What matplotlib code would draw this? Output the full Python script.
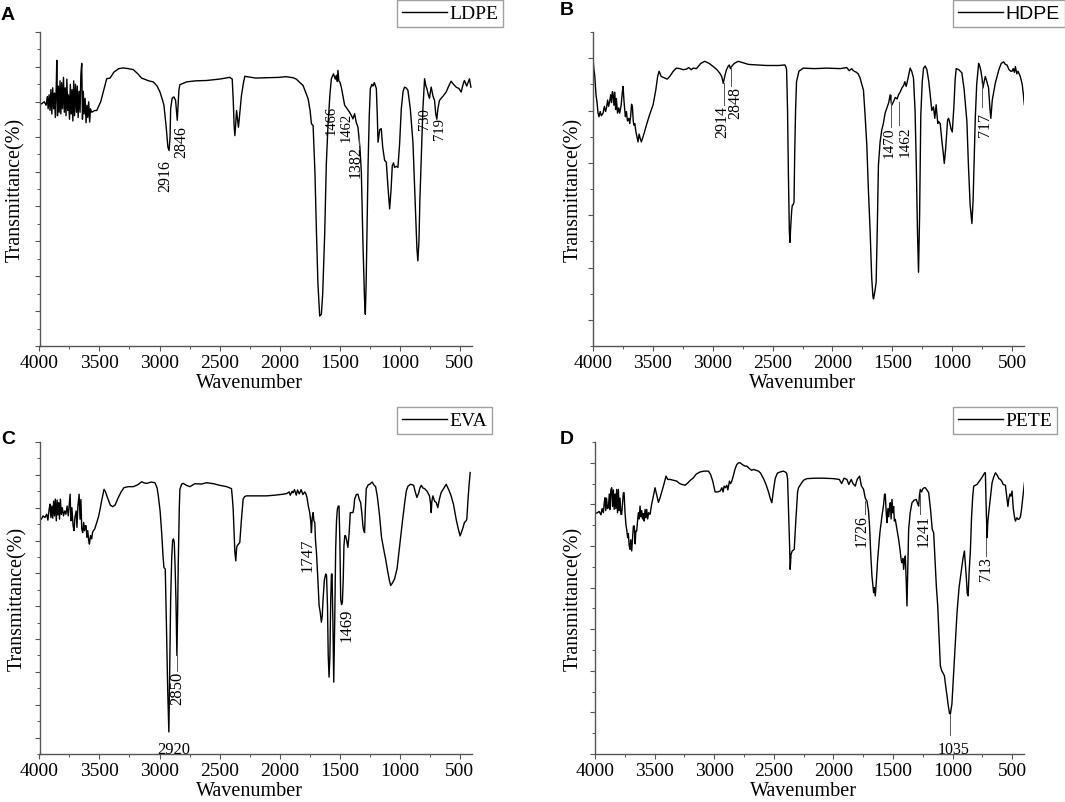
import matplotlib
matplotlib.use('Agg')
import matplotlib.pyplot as plt
from matplotlib.ticker import MultipleLocator, NullFormatter

plt.rcParams['font.family'] = ['Liberation Serif', 'DejaVu Serif']
plt.rcParams['mathtext.fontset'] = 'stix'

# ---------------- data ----------------
# A: LDPE
ldpe_wn = [4000, 3980, 3960, 3945, 3935, 3928, 3920, 3912, 3905, 3897, 3890, 3882, 3875, 3868,
           3860, 3856, 3850, 3843, 3836, 3829, 3822, 3815, 3808, 3800, 3793, 3786, 3779, 3772,
           3765, 3758, 3750, 3743, 3736, 3729, 3722, 3715, 3708, 3700, 3692, 3685, 3678, 3670,
           3662, 3655, 3648, 3642, 3635, 3628, 3620, 3612, 3605, 3598, 3590, 3582, 3575, 3565,
           3540, 3523, 3490, 3460, 3440, 3412, 3380, 3340, 3301, 3260, 3218, 3180, 3150, 3135,
           3090, 3052, 3020, 2996, 2975, 2963, 2945, 2930, 2920, 2912, 2907, 2895, 2880, 2866,
           2858, 2852, 2845, 2838, 2830, 2774, 2700, 2608, 2500, 2414, 2394, 2385, 2378, 2372,
           2365, 2358, 2350, 2342, 2330, 2317, 2300, 2289, 2200, 2109, 2000, 1950, 1887, 1860,
           1830, 1804, 1780, 1762, 1745, 1734, 1720, 1705, 1692, 1680, 1665, 1651, 1640, 1623,
           1610, 1596, 1580, 1568, 1550, 1535, 1526, 1518, 1513, 1505, 1495, 1485, 1470, 1457,
           1440, 1416, 1400, 1388, 1374, 1360, 1346, 1330, 1318, 1305, 1292, 1285, 1278, 1270,
           1262, 1252, 1243, 1230, 1221, 1210, 1193, 1185, 1179, 1165, 1152, 1140, 1124, 1110,
           1095, 1082, 1070, 1060, 1050, 1041, 1027, 1013, 999, 985, 970, 958, 945, 930,
           910, 888, 870, 855, 847, 838, 830, 819, 805, 791, 780, 772, 760, 750,
           744, 736, 720, 708, 698, 689, 680, 667, 640, 611, 590, 570, 550, 528,
           505, 486, 470, 459, 440, 417, 405]
ldpe_t = [69.2, 69.5, 70.0, 69.0, 71.5, 68.0, 72.0, 67.5, 73.5, 66.5, 74.0, 68.0, 72.5, 65.5,
          75.0, 81.9, 66.0, 74.5, 67.0, 76.0, 66.5, 75.5, 68.0, 77.0, 67.0, 74.0, 66.0, 76.5,
          67.5, 72.0, 65.0, 75.0, 66.5, 73.5, 64.5, 76.0, 66.0, 75.0, 67.0, 74.5, 65.5, 73.0,
          67.0, 78.0, 81.0, 65.0, 73.0, 66.5, 71.0, 64.0, 69.0, 65.5, 70.0, 64.2, 68.0, 67.0,
          67.5, 67.5, 70.0, 74.0, 76.6, 76.8, 78.5, 79.5, 79.7, 79.5, 79.2, 78.0, 76.8, 76.6,
          76.0, 75.7, 74.5, 72.8, 70.5, 69.0, 63.0, 57.0, 56.0, 60.0, 68.0, 71.0, 71.4, 70.4,
          67.0, 64.7, 69.0, 73.5, 74.9, 75.7, 76.0, 76.1, 76.5, 77.0, 76.5, 70.0, 63.0, 60.3,
          63.5, 67.5, 65.0, 62.7, 67.0, 71.8, 75.5, 77.3, 76.8, 76.9, 77.0, 77.2, 76.9, 76.5,
          75.5, 74.7, 72.5, 70.9, 67.5, 63.7, 63.2, 50.0, 32.6, 18.0, 8.6, 9.1, 15.0, 32.6,
          52.0, 63.2, 72.0, 76.6, 78.0, 76.5, 77.6, 75.8, 79.0, 76.0, 75.5, 74.2, 71.5, 69.0,
          68.2, 67.0, 66.0, 65.1, 66.6, 64.0, 62.7, 57.0, 49.8, 30.0, 14.0, 9.1, 18.0, 35.0,
          51.7, 66.0, 73.8, 75.0, 74.5, 75.5, 73.8, 66.0, 58.4, 62.0, 62.3, 57.0, 53.2, 52.7,
          45.0, 39.3, 45.0, 51.7, 52.5, 51.2, 51.5, 51.2, 58.0, 68.0, 73.0, 74.2, 74.0, 73.3,
          68.0, 58.4, 42.0, 28.0, 24.4, 30.0, 42.0, 53.6, 68.0, 76.6, 74.5, 73.8, 72.0, 71.0,
          72.5, 74.2, 71.5, 70.4, 66.5, 65.0, 68.0, 70.4, 71.5, 72.8, 74.5, 75.9, 75.0, 74.2,
          73.8, 72.8, 75.0, 76.1, 74.5, 76.6, 74.2]

# B: HDPE
hdpe_wn = [4000, 3993, 3986, 3975, 3967, 3958, 3950, 3940, 3930, 3916, 3905, 3895, 3888, 3878,
           3870, 3861, 3852, 3845, 3838, 3833, 3825, 3818, 3811, 3805, 3795, 3785, 3777, 3765,
           3755, 3749, 3740, 3730, 3721, 3712, 3700, 3693, 3685, 3678, 3671, 3664, 3658, 3651,
           3642, 3633, 3624, 3615, 3605, 3596, 3575, 3554, 3530, 3498, 3475, 3460, 3448, 3430,
           3400, 3380, 3359, 3330, 3303, 3275, 3247, 3220, 3200, 3180, 3163, 3136, 3100, 3066,
           3030, 2996, 2965, 2940, 2925, 2912, 2900, 2885, 2870, 2862, 2852, 2843, 2820, 2787,
           2700, 2620, 2550, 2450, 2397, 2390, 2383, 2375, 2368, 2360, 2355, 2348, 2340, 2335,
           2328, 2321, 2315, 2308, 2300, 2280, 2244, 2150, 2050, 1936, 1880, 1860, 1840, 1825,
           1800, 1785, 1769, 1755, 1741, 1727, 1713, 1700, 1685, 1672, 1662, 1657, 1645, 1635,
           1625, 1616, 1602, 1588, 1575, 1560, 1545, 1530, 1518, 1505, 1490, 1475, 1460, 1448,
           1435, 1420, 1405, 1395, 1384, 1370, 1351, 1338, 1323, 1310, 1300, 1290, 1281, 1272,
           1262, 1250, 1239, 1225, 1211, 1195, 1184, 1170, 1156, 1145, 1134, 1120, 1114, 1100,
           1085, 1075, 1066, 1055, 1045, 1038, 1030, 1022, 1010, 999, 985, 975, 966, 945,
           919, 900, 885, 877, 865, 850, 835, 825, 815, 807, 795, 779, 770, 760,
           750, 743, 733, 723, 710, 696, 685, 677, 665, 640, 610, 590, 570, 555,
           542, 525, 510, 500, 490, 480, 472, 460, 450, 431, 415, 405, 397]
hdpe_t = [60.0, 58.0, 56.8, 53.0, 51.7, 49.5, 48.8, 49.8, 49.0, 49.5, 50.8, 49.8, 50.4, 52.0,
          50.8, 51.7, 53.0, 51.5, 53.6, 53.3, 51.0, 53.5, 50.2, 52.3, 49.5, 50.5, 49.5, 51.0,
          53.5, 54.6, 51.5, 48.8, 49.8, 48.0, 48.5, 47.5, 49.0, 51.2, 50.7, 48.0, 47.2, 47.5,
          46.0, 45.0, 44.0, 45.5, 44.6, 44.0, 45.5, 47.2, 49.0, 51.1, 54.0, 56.5, 57.5, 56.5,
          56.2, 56.0, 56.5, 57.5, 58.1, 58.0, 57.8, 57.9, 58.2, 57.8, 58.1, 58.0, 59.0, 59.4,
          59.0, 58.4, 57.8, 57.1, 56.5, 55.2, 56.5, 57.8, 58.5, 58.7, 58.0, 58.4, 59.0, 59.4,
          58.8, 58.7, 58.6, 58.6, 58.7, 58.4, 57.8, 50.0, 38.0, 27.0, 24.8, 28.0, 31.0, 31.9,
          32.0, 32.5, 42.0, 50.0, 55.5, 57.5, 58.1, 58.0, 58.1, 58.0, 58.2, 57.6, 58.0, 57.6,
          57.3, 57.0, 56.2, 55.0, 53.9, 49.0, 43.4, 35.0, 26.8, 18.0, 14.5, 14.0, 15.5, 17.2,
          28.0, 39.5, 44.0, 46.3, 47.5, 49.5, 50.5, 51.5, 53.0, 51.0, 51.7, 52.5, 52.2, 53.0,
          53.5, 54.3, 54.8, 55.5, 54.6, 56.0, 58.1, 57.5, 56.2, 50.0, 40.0, 27.0, 19.1, 30.0,
          49.1, 55.5, 58.1, 58.5, 57.8, 55.5, 53.0, 50.0, 50.7, 48.5, 51.1, 47.5, 47.9, 47.5,
          44.0, 42.0, 39.9, 42.5, 46.0, 48.2, 48.5, 47.9, 46.5, 45.9, 51.0, 56.0, 58.0, 57.8,
          57.2, 54.0, 50.0, 47.9, 40.0, 32.0, 28.4, 33.0, 42.0, 48.5, 55.0, 59.0, 58.5, 57.6,
          56.0, 54.3, 55.5, 56.5, 55.5, 54.3, 50.5, 48.5, 52.0, 55.2, 57.8, 59.0, 59.3, 58.8,
          58.7, 57.8, 57.5, 57.5, 58.0, 57.3, 58.4, 57.0, 57.5, 56.5, 55.0, 53.0, 51.1]

# C: EVA
eva_wn = [4000, 3985, 3970, 3955, 3940, 3930, 3920, 3912, 3905, 3897, 3890, 3882, 3875, 3868,
          3860, 3853, 3846, 3840, 3833, 3826, 3818, 3810, 3800, 3790, 3780, 3770, 3760, 3752,
          3745, 3738, 3730, 3720, 3712, 3705, 3695, 3688, 3680, 3670, 3662, 3655, 3648, 3640,
          3632, 3625, 3618, 3612, 3605, 3598, 3590, 3584, 3575, 3565, 3558, 3551, 3540, 3523,
          3510, 3495, 3480, 3462, 3450, 3434, 3410, 3390, 3370, 3343, 3320, 3296, 3260, 3218,
          3180, 3149, 3125, 3107, 3070, 3038, 3020, 3010, 2995, 2982, 2970, 2963, 2952, 2945,
          2941, 2932, 2922, 2915, 2907, 2898, 2891, 2884, 2877, 2870, 2863, 2855, 2849, 2844,
          2835, 2830, 2815, 2802, 2775, 2747, 2720, 2705, 2650, 2608, 2550, 2497, 2440, 2400,
          2393, 2386, 2378, 2372, 2364, 2358, 2353, 2340, 2331, 2318, 2303, 2290, 2275, 2200,
          2109, 2040, 1971, 1940, 1920, 1910, 1895, 1887, 1875, 1860, 1850, 1835, 1820, 1805,
          1790, 1780, 1771, 1760, 1748, 1740, 1734, 1727, 1720, 1713, 1706, 1700, 1692, 1680,
          1670, 1660, 1651, 1644, 1637, 1626, 1615, 1608, 1600, 1594, 1587, 1580, 1573, 1567,
          1562, 1555, 1548, 1540, 1532, 1525, 1518, 1510, 1504, 1497, 1490, 1483, 1476, 1469,
          1463, 1456, 1449, 1440, 1430, 1420, 1410, 1400, 1388, 1380, 1374, 1360, 1346, 1335,
          1324, 1313, 1305, 1298, 1291, 1284, 1277, 1260, 1249, 1238, 1227, 1215, 1199, 1185,
          1166, 1150, 1130, 1116, 1097, 1085, 1074, 1060, 1041, 1020, 999, 975, 955, 943,
          930, 910, 895, 882, 870, 855, 840, 830, 819, 805, 791, 770, 750, 742,
          736, 730, 722, 708, 694, 681, 668, 653, 630, 611, 590, 570, 550, 528,
          510, 495, 480, 470, 459, 445, 439, 430, 420, 411]
eva_t = [66.7, 66.5, 67.5, 67.0, 68.0, 66.2, 69.5, 71.1, 67.0, 70.5, 66.8, 72.0, 67.5, 72.6,
         66.0, 72.3, 67.8, 71.5, 66.5, 72.6, 68.0, 70.0, 67.5, 69.0, 68.0, 70.5, 67.5, 71.0,
         74.1, 66.0, 70.0, 64.5, 63.0, 67.0, 69.0, 64.0, 70.5, 74.1, 66.5, 72.5, 63.5, 62.4,
         65.5, 63.0, 64.5, 64.5, 61.0, 63.0, 60.0, 58.9, 61.5, 60.5, 62.5, 63.0, 63.5, 65.5,
         67.0, 69.5, 72.5, 75.6, 74.8, 73.1, 70.8, 70.3, 70.8, 73.1, 74.8, 76.1, 76.4, 76.4,
         77.0, 77.9, 77.5, 77.4, 77.8, 77.6, 76.0, 73.6, 69.0, 62.4, 55.0, 51.8, 51.3, 40.0,
         32.1, 15.0, 1.7, 20.0, 42.1, 55.0, 59.9, 60.5, 59.4, 52.0, 42.1, 25.0, 38.0, 52.3,
         70.0, 75.6, 77.2, 77.4, 76.8, 76.4, 77.0, 77.3, 77.2, 77.6, 77.3, 76.8, 76.4, 75.8,
         73.0, 69.5, 62.0, 56.4, 53.8, 57.5, 58.4, 59.0, 59.4, 66.0, 72.6, 73.4, 73.6, 73.6,
         73.6, 73.8, 74.1, 74.3, 74.8, 73.8, 75.0, 74.5, 75.5, 73.8, 75.4, 74.2, 75.5, 74.0,
         74.8, 74.2, 73.1, 70.5, 68.5, 66.0, 62.4, 67.0, 68.5, 66.0, 65.5, 60.0, 56.4, 48.0,
         40.2, 38.0, 35.1, 37.0, 42.1, 48.0, 49.8, 49.3, 40.0, 25.0, 18.4, 25.0, 42.1, 49.8,
         49.8, 35.0, 16.9, 35.0, 57.4, 66.0, 69.5, 70.5, 70.5, 60.0, 42.1, 40.5, 41.2, 48.0,
         58.4, 61.5, 61.4, 60.0, 57.9, 62.0, 68.5, 68.5, 68.5, 70.0, 72.6, 74.0, 74.1, 72.5,
         71.6, 68.0, 64.5, 63.0, 62.4, 70.0, 75.8, 77.0, 77.1, 77.5, 77.8, 77.0, 76.4, 73.5,
         67.5, 61.0, 57.0, 54.4, 50.3, 48.0, 46.3, 47.0, 48.3, 51.5, 58.4, 66.0, 72.0, 75.1,
         76.5, 77.1, 77.0, 76.8, 75.0, 73.1, 74.5, 76.0, 76.8, 76.0, 75.8, 75.0, 73.6, 71.5,
         68.5, 72.0, 73.6, 72.0, 71.6, 70.0, 72.5, 74.6, 76.0, 77.1, 75.5, 73.6, 71.0, 66.5,
         63.5, 61.4, 63.0, 64.0, 65.5, 66.0, 66.5, 72.0, 77.0, 80.7]

# D: PETE
pete_wn = [4000, 3980, 3965, 3950, 3940, 3930, 3922, 3916, 3910, 3903, 3896, 3888, 3880, 3874,
           3867, 3860, 3853, 3846, 3839, 3832, 3825, 3818, 3811, 3804, 3797, 3790, 3783, 3776,
           3768, 3762, 3756, 3748, 3740, 3734, 3726, 3720, 3713, 3706, 3700, 3692, 3685, 3678,
           3670, 3663, 3657, 3650, 3643, 3636, 3629, 3622, 3615, 3608, 3601, 3594, 3587, 3580,
           3573, 3566, 3558, 3550, 3538, 3525, 3510, 3496, 3480, 3468, 3454, 3440, 3425, 3404,
           3390, 3370, 3340, 3314, 3290, 3270, 3244, 3220, 3200, 3174, 3150, 3118, 3085, 3048,
           3030, 3012, 3000, 2992, 2970, 2950, 2935, 2925, 2916, 2905, 2894, 2885, 2872, 2862,
           2852, 2840, 2825, 2810, 2795, 2782, 2760, 2740, 2726, 2700, 2685, 2670, 2650, 2628,
           2610, 2586, 2565, 2544, 2530, 2516, 2502, 2488, 2470, 2446, 2420, 2404, 2392, 2384,
           2375, 2367, 2362, 2355, 2345, 2336, 2328, 2315, 2300, 2292, 2270, 2250, 2222, 2150,
           2082, 2000, 1950, 1930, 1910, 1886, 1870, 1850, 1835, 1816, 1800, 1780, 1765, 1746,
           1732, 1718, 1705, 1696, 1686, 1676, 1662, 1655, 1648, 1638, 1628, 1610, 1592, 1578,
           1570, 1564, 1556, 1550, 1542, 1535, 1528, 1522, 1515, 1508, 1500, 1494, 1488, 1480,
           1466, 1452, 1440, 1430, 1424, 1416, 1410, 1403, 1396, 1389, 1382, 1375, 1368, 1355,
           1340, 1322, 1304, 1290, 1284, 1278, 1270, 1260, 1248, 1238, 1228, 1215, 1200, 1185,
           1170, 1158, 1145, 1135, 1124, 1112, 1102, 1090, 1080, 1068, 1058, 1046, 1035, 1025,
           1018, 1005, 990, 975, 962, 945, 928, 912, 900, 890, 883, 876, 869, 860,
           850, 840, 830, 822, 808, 794, 770, 750, 738, 730, 724, 718, 710, 703,
           696, 680, 668, 655, 640, 625, 610, 598, 585, 575, 556, 545, 535, 528,
           518, 510, 500, 490, 480, 472, 460, 450, 440, 430, 420, 410, 403, 396]
pete_t = [57.8, 58.0, 58.3, 57.5, 59.0, 58.0, 60.5, 61.6, 58.5, 61.5, 59.0, 59.2, 62.5, 58.8,
          63.5, 64.0, 59.5, 63.5, 58.8, 62.5, 59.0, 63.6, 58.0, 63.6, 58.5, 61.5, 57.6, 57.6,
          60.5, 62.8, 62.8, 58.0, 55.0, 54.0, 52.0, 53.0, 50.0, 49.2, 51.5, 48.8, 52.0, 54.8,
          54.8, 50.5, 53.6, 53.6, 56.0, 58.0, 56.5, 59.6, 57.0, 58.5, 56.5, 57.8, 56.0, 58.8,
          56.8, 58.8, 56.5, 58.0, 57.6, 60.0, 62.0, 64.0, 62.0, 60.5, 61.6, 63.0, 64.5, 66.8,
          66.0, 66.0, 65.8, 65.6, 65.0, 64.8, 64.6, 65.2, 65.8, 66.4, 67.3, 67.8, 68.0, 68.0,
          67.2, 65.6, 64.0, 63.0, 63.0, 63.2, 64.0, 63.0, 64.4, 64.0, 64.6, 63.5, 65.6, 65.0,
          65.6, 66.8, 68.5, 69.6, 70.0, 70.0, 69.5, 69.2, 69.2, 68.5, 68.2, 68.4, 68.2, 68.0,
          67.5, 66.2, 64.8, 63.0, 61.5, 60.4, 63.5, 66.2, 67.5, 67.8, 68.0, 67.8, 67.5, 66.2,
          58.0, 50.0, 44.4, 48.0, 48.8, 49.0, 49.2, 56.0, 63.0, 64.0, 65.0, 65.8, 66.2, 66.3,
          66.3, 66.2, 66.0, 65.0, 66.3, 66.0, 64.8, 66.0, 65.0, 64.4, 66.0, 66.8, 64.5, 63.6,
          61.5, 60.8, 58.5, 54.8, 48.0, 42.8, 38.8, 40.0, 38.0, 42.0, 46.8, 53.0, 57.2, 60.0,
          62.5, 62.4, 58.0, 55.6, 59.0, 57.0, 59.5, 60.4, 56.5, 61.2, 58.0, 59.5, 56.0, 56.4,
          54.0, 51.6, 49.0, 46.5, 46.0, 47.0, 44.4, 46.5, 47.6, 42.0, 35.6, 45.0, 54.0, 58.0,
          60.4, 61.0, 61.2, 60.0, 59.6, 62.0, 63.6, 63.0, 63.8, 64.0, 64.0, 63.5, 62.8, 59.0,
          54.0, 53.2, 46.0, 40.0, 35.6, 28.0, 21.2, 20.0, 19.5, 18.8, 16.5, 14.0, 11.5, 9.8,
          9.6, 12.0, 19.6, 27.0, 34.0, 40.0, 43.6, 47.0, 48.8, 45.0, 42.0, 38.5, 38.0, 44.0,
          48.8, 57.0, 62.0, 64.4, 64.6, 64.8, 65.8, 66.6, 67.2, 67.6, 67.6, 60.0, 52.0, 56.0,
          58.0, 62.0, 65.2, 66.5, 67.6, 67.0, 66.2, 66.0, 65.5, 64.8, 64.6, 62.0, 59.5, 61.2,
          62.5, 62.0, 63.2, 59.0, 57.0, 56.0, 56.8, 56.4, 56.5, 57.0, 59.0, 61.8, 63.5, 65.2]

names = ['LDPE', 'HDPE', 'EVA', 'PETE']
letters = ['A', 'B', 'C', 'D']
ldpe_labels = ['2916', '2846', '1466', '1462', '1382', '730', '719']
hdpe_labels = ['2914', '2848', '1470', '1462', '717']
eva_labels = ['2920', '2850', '1747', '1469']
pete_labels = ['1726', '1241', '713', '1035']

# ---------------- figure ----------------
fig = plt.figure(figsize=(10.65, 8.03), dpi=100)

W, H = 1065.0, 803.0
boxes = [(39.5, 33, 432, 314), (593, 33, 431, 314),
         (39.5, 443, 432, 312), (595, 443, 429, 312)]
ylims = [(0, 90), (5, 65), (-5, 90), (0, 75)]
ylab_x = [-0.034, -0.023, -0.029, -0.028]
leg_pos = [(397, 1), (953, 1), (397, 408), (953, 408)]
letter_pos = [(1, 7), (560, 2), (1, 431), (560, 431)]
series = [(ldpe_wn, ldpe_t), (hdpe_wn, hdpe_t), (eva_wn, eva_t), (pete_wn, pete_t)]

# annotation layout: (text, x, y_top, rotation, size, leader)
ann = [
    [(ldpe_labels[0], 2955, 53.6, 90, 11.5, None), (ldpe_labels[1], 2816, 63.4, 90, 11.5, None),
     (ldpe_labels[2], 1565, 69.2, 90, 10.5, None), (ldpe_labels[3], 1445, 67.0, 90, 10.5, None),
     (ldpe_labels[4], 1366, 57.5, 90, 11.5, (1340, 59.5, 57.5)),
     (ldpe_labels[5], 788, 68.5, 90, 10.5, None), (ldpe_labels[6], 668, 65.6, 90, 10.5, None)],
    [(hdpe_labels[0], 2918, 51.1, 90, 11.5, (2907, 55.2, 51.1)),
     (hdpe_labels[1], 2815, 54.6, 90, 11.5, (2848, 58.4, 54.6)),
     (hdpe_labels[2], 1522, 46.9, 90, 11, (1510, 53.0, 46.9)),
     (hdpe_labels[3], 1390, 47.2, 90, 11, (1440, 51.7, 47.2)),
     (hdpe_labels[4], 723, 49.8, 90, 11.5, (751, 55.2, 50.7))],
    [(eva_labels[0], 2880, -1.0, 0, 12, None), (eva_labels[1], 2849, 20.4, 90, 12, (2855, 25.0, 20.4)),
     (eva_labels[2], 1770, 60.9, 90, 12, None), (eva_labels[3], 1443, 39.7, 90, 12, None)],
    [(pete_labels[0], 1760, 57.6, 90, 11.5, (1732, 60.8, 57.6)),
     (pete_labels[1], 1242, 57.6, 90, 11.5, (1270, 62.4, 57.6)),
     (pete_labels[2], 715, 47.6, 90, 11.5, (715, 52.0, 47.6)),
     (pete_labels[3], 990, 3.2, 0, 11.5, (1018, 9.6, 4.6))],
]

for i in range(4):
    l, t, w, h = boxes[i]
    ax = fig.add_axes([l / W, 1 - (t + h) / H, w / W, h / H])
    wn, tr = series[i]
    ax.plot(wn, tr, color='black', lw=1.0, label=names[i])
    ax.set_xlim(4000, 400)
    ax.set_ylim(*ylims[i])
    ax.xaxis.set_major_locator(MultipleLocator(500))
    ax.xaxis.set_minor_locator(MultipleLocator(250))
    ax.yaxis.set_major_locator(MultipleLocator(10))
    ax.yaxis.set_minor_locator(MultipleLocator(5))
    ax.yaxis.set_major_formatter(NullFormatter())
    for s in ['top', 'right']:
        ax.spines[s].set_visible(False)
    for s in ['left', 'bottom']:
        ax.spines[s].set_color('#555555')
        ax.spines[s].set_linewidth(1.0)
    ax.tick_params(which='major', direction='out', length=3.5, width=0.8, color='#555555',
                   labelsize=14, pad=2.5)
    ax.tick_params(which='minor', direction='out', length=2, width=0.7, color='#555555')
    ax.set_xlabel('Wavenumber', fontsize=14.5)
    ax.set_ylabel('Transmittance(%)', fontsize=14.5)
    ax.xaxis.set_label_coords(0.485, -0.087)
    ax.yaxis.set_label_coords(ylab_x[i], 0.5)

    for txt, x, y, rot, size, lead in ann[i]:
        ax.text(x, y, txt, rotation=rot, ha='center', va='top', fontsize=size)
        if lead is not None:
            ax.plot([lead[0], lead[0]], [lead[1], lead[2]], color='#555555', lw=0.7)

    if names[i] == 'HDPE':
        prop = {'family': ['Liberation Sans', 'DejaVu Sans'], 'size': 14}
    else:
        prop = {'family': ['Liberation Serif', 'DejaVu Serif'], 'size': 14}
    lx, ly = leg_pos[i]
    leg = ax.legend(loc='upper left', bbox_to_anchor=(lx / W, 1 - ly / H),
                    bbox_transform=fig.transFigure, prop=prop, frameon=True,
                    fancybox=False, handlelength=2.3, handletextpad=0.15,
                    borderpad=0.25, borderaxespad=0)
    leg.get_frame().set_edgecolor('#888888')
    leg.get_frame().set_linewidth(1.0)

    px, py = letter_pos[i]
    fig.text(px / W, 1 - py / H, letters[i], fontsize=14, fontweight='bold',
             family=['Liberation Sans', 'DejaVu Sans'], ha='left', va='top')

fig.savefig('out.png', dpi=100)
